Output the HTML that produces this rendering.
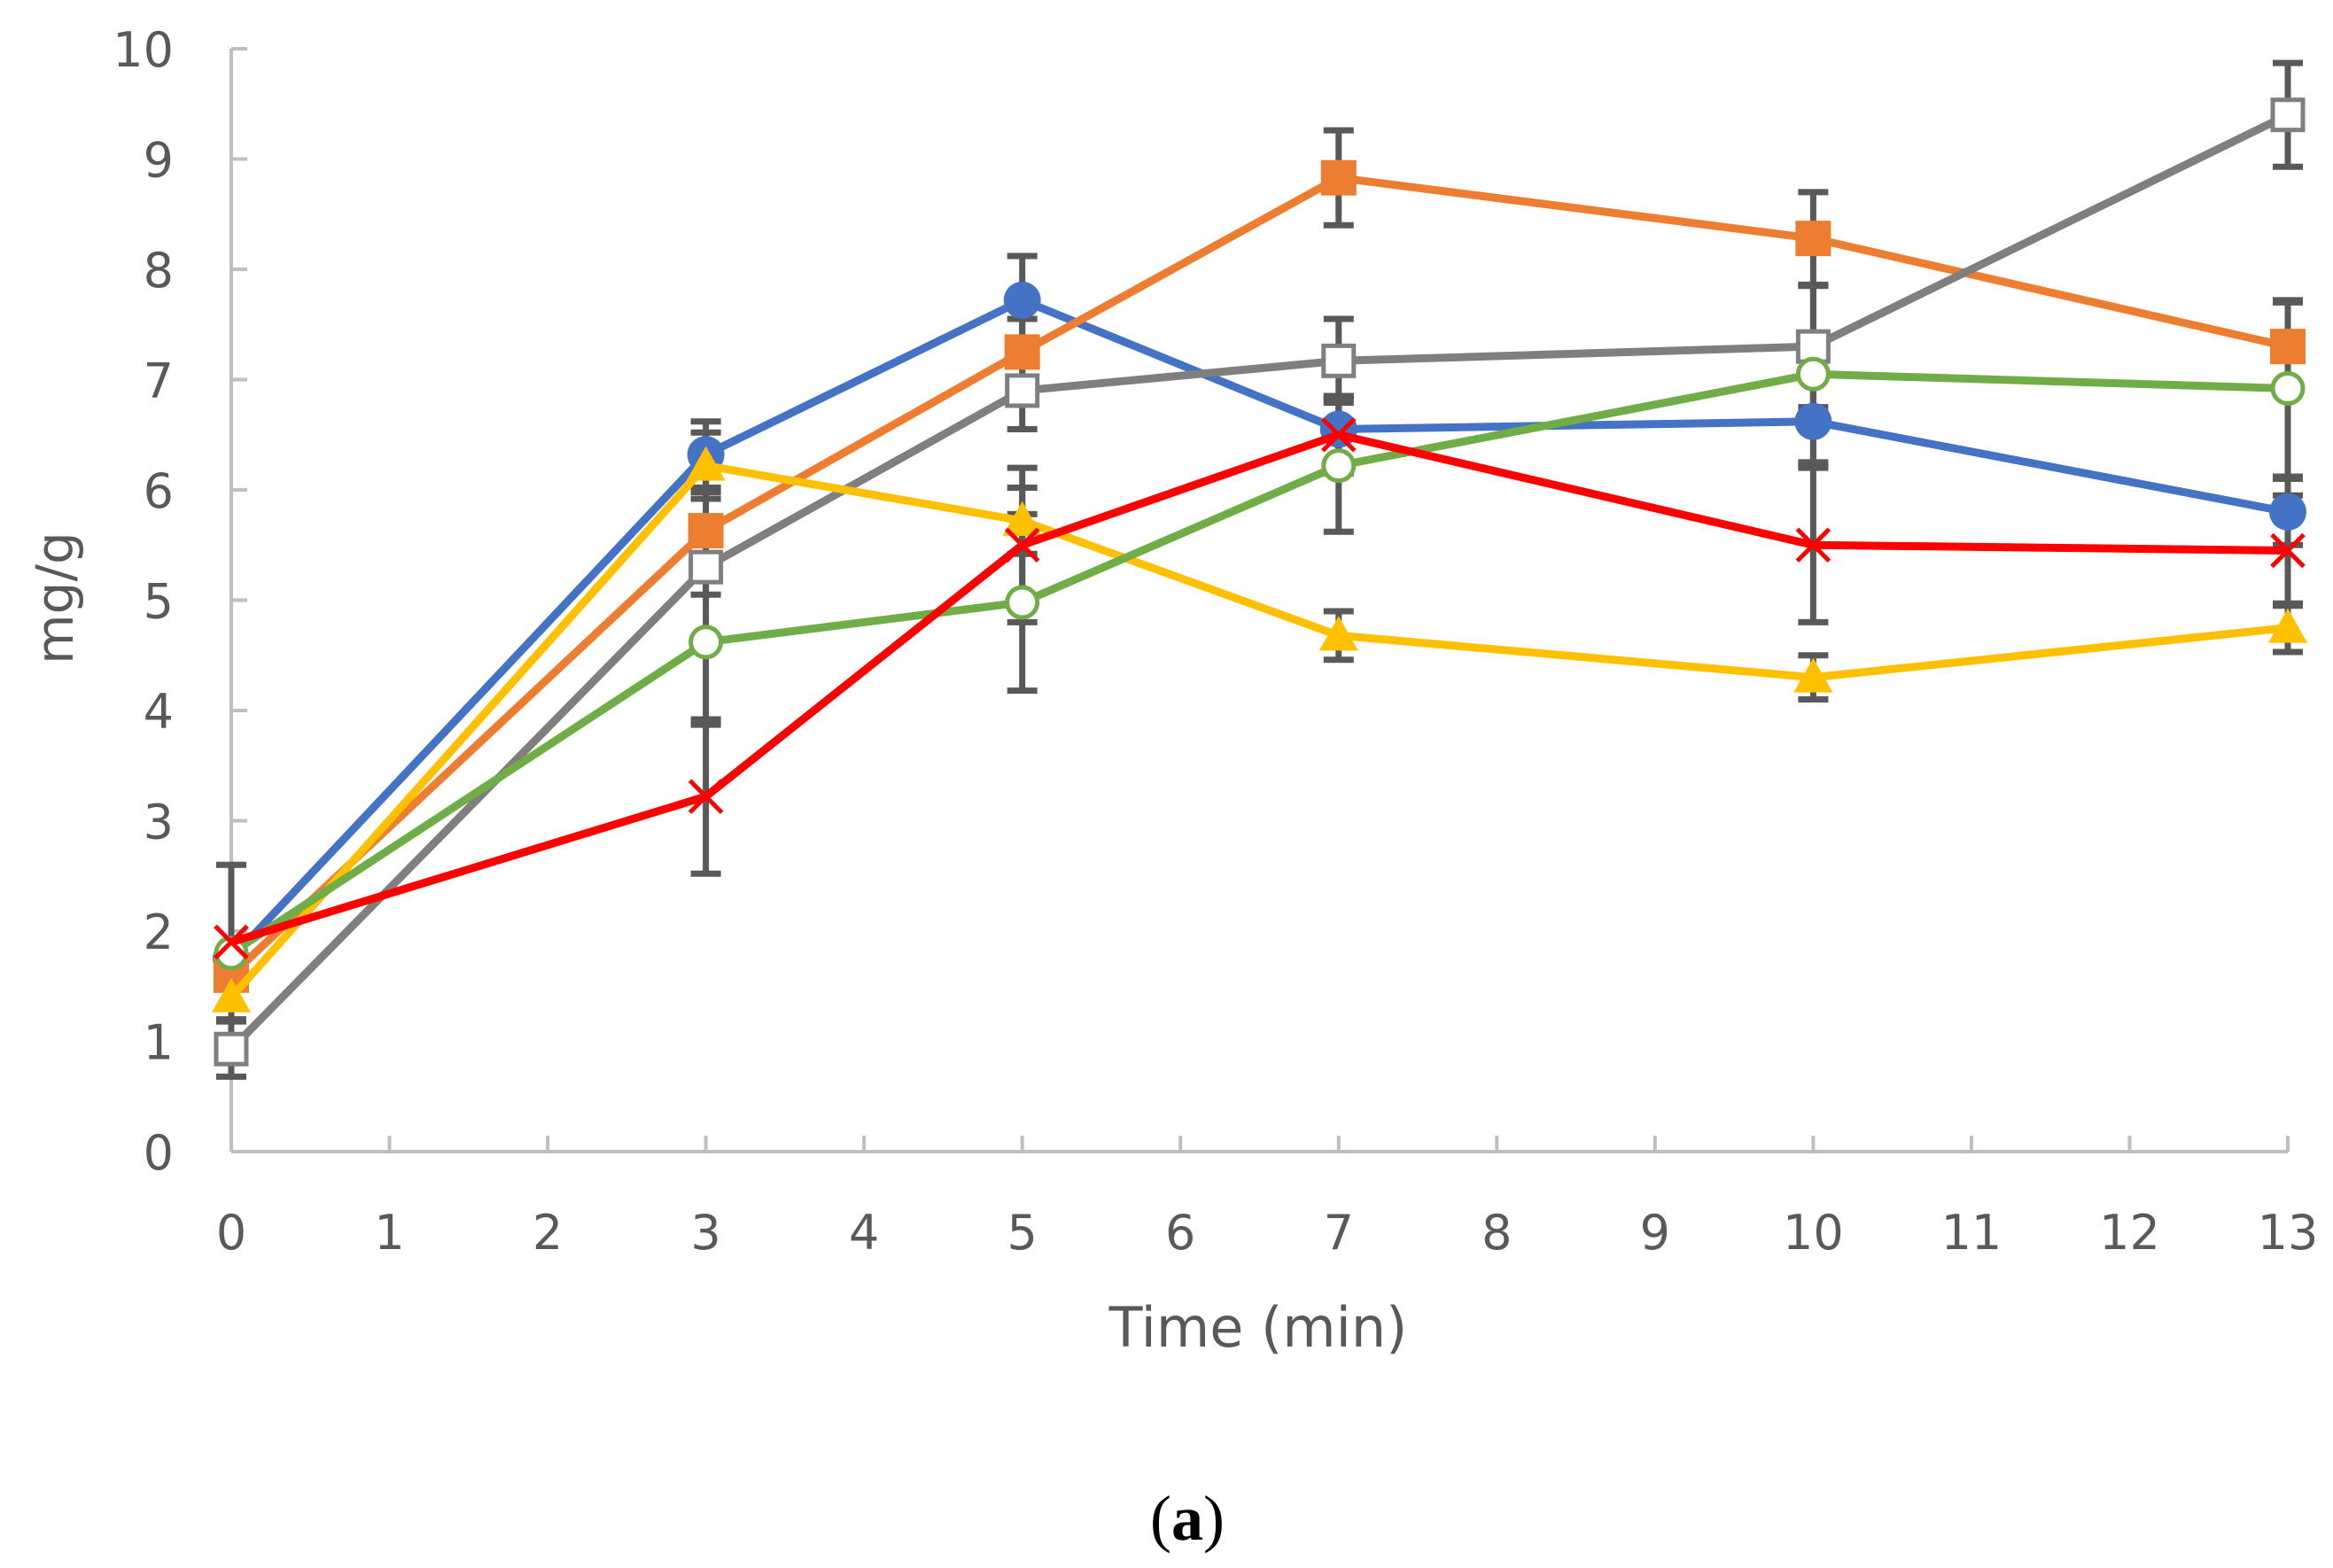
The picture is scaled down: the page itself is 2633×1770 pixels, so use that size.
<!DOCTYPE html>
<html><head><meta charset="utf-8"><style>
html,body{margin:0;padding:0;background:#fff}
svg{display:block}
text{font-family:"DejaVu Sans","Liberation Sans",sans-serif;fill:#595959}
</style></head><body>
<svg id="chart" width="2633" height="1770" viewBox="0 0 2633 1770" xmlns="http://www.w3.org/2000/svg">
<g id="axes"></g>
<g id="errs"></g>
<g id="series"></g>
<text x="1420" y="1520" font-size="62" text-anchor="middle">Time (min)</text>
<text transform="translate(82,675) rotate(-90)" font-size="58" text-anchor="middle">mg/g</text>
<text x="1340" y="1738" font-size="72" text-anchor="middle" style="font-family:'Liberation Serif',serif;fill:#000">(<tspan font-weight="bold">a</tspan>)</text>
</svg>
<script>
const times=[0,3,5,7,10,13];
const xTicks=[0,1,2,3,4,5,6,7,8,9,10,11,12,13];
const yTicks=[0,1,2,3,4,5,6,7,8,9,10];
const blueVals=[1.75,6.32,7.72,6.55,6.62,5.8];
const blueErr=[0,0.3,0.4,0.3,0.4,0.3];
const orangeVals=[1.6,5.63,7.25,8.83,8.28,7.3];
const orangeErr=[0,0.35,0.3,0.43,0.42,0.4];
const grayVals=[0.93,5.3,6.9,7.17,7.3,9.4];
const grayErr=[0.25,0.25,0.35,0.38,0.55,0.47];
const yellowVals=[1.4,6.22,5.72,4.68,4.3,4.75];
const yellowErr=[0,0.3,0.3,0.22,0.2,0.22];
const greenVals=[1.8,4.62,4.98,6.22,7.05,6.92];
const greenErr=[0,0.75,0.8,0.6,0.8,0.8];
const redVals=[1.9,3.22,5.5,6.5,5.5,5.45];
const redErr=[0.7,0.7,0.7,0.35,0.7,0.5];

const X0=261,X1=2582,Y0=1300,Y1=55;
const xs=v=>X0+(X1-X0)*v/13;
const ys=v=>Y0-(Y0-Y1)*v/10;
const NS='http://www.w3.org/2000/svg';
function mk(tag,attrs,parent){const e=document.createElementNS(NS,tag);for(const k in attrs)e.setAttribute(k,attrs[k]);parent.appendChild(e);return e;}
const axes=document.getElementById('axes');
let l=mk('line',{x1:X0,y1:Y0,x2:X1,y2:Y0,stroke:'#bfbfbf','stroke-width':4},axes);


l=mk('line',{x1:X0,y1:Y0,x2:X0,y2:Y1,stroke:'#bfbfbf','stroke-width':4},axes);


xTicks.forEach(t=>{
 const tk=mk('line',{x1:xs(t),y1:Y0,x2:xs(t),y2:Y0-18,stroke:'#bfbfbf','stroke-width':4},axes);
 
 
 const tx=mk('text',{x:xs(t),y:1410,'font-size':54,'text-anchor':'middle'},axes);
 tx.textContent=t;
 
 
});
yTicks.forEach(t=>{
 const tk=mk('line',{x1:X0,y1:ys(t),x2:X0+18,y2:ys(t),stroke:'#bfbfbf','stroke-width':4},axes);
 
 
 const tx=mk('text',{x:196,y:ys(t)+20,'font-size':54,'text-anchor':'end'},axes);
 tx.textContent=t;
 
 
});
const series=[
 {n:'blue',v:blueVals,e:blueErr,c:'#4472c4',m:'circle'},
 {n:'orange',v:orangeVals,e:orangeErr,c:'#ed7d31',m:'square'},
 {n:'gray',v:grayVals,e:grayErr,c:'#7f7f7f',m:'osquare'},
 {n:'yellow',v:yellowVals,e:yellowErr,c:'#ffc000',m:'triangle'},
 {n:'green',v:greenVals,e:greenErr,c:'#70ad47',m:'ocircle'},
 {n:'red',v:redVals,e:redErr,c:'#ff0000',m:'x'}
];
const eg=document.getElementById('errs'),sg=document.getElementById('series');
series.forEach(s=>{
 times.forEach((t,i)=>{
  if(!s.e[i])return;
  const x=xs(t),a=ys(s.v[i]+s.e[i]),b=ys(s.v[i]-s.e[i]);
  const p=mk('path',{d:`M${x},${a}V${b}M${x-17},${a}H${x+17}M${x-17},${b}H${x+17}`,stroke:'#595959','stroke-width':7,fill:'none'},eg);
  
  
 });
});
series.forEach(s=>{
 const g=mk('g',{},sg);
 
 
 const pl=mk('polyline',{points:times.map((t,i)=>xs(t)+','+ys(s.v[i])).join(' '),fill:'none',stroke:s.c,'stroke-width':9,'stroke-linejoin':'round'},g);
 
 
 times.forEach((t,i)=>{
  const x=xs(t),y=ys(s.v[i]);let m;
  if(s.m==='circle')m=mk('circle',{cx:x,cy:y,r:21,fill:s.c},g);
  else if(s.m==='ocircle')m=mk('circle',{cx:x,cy:y,r:17,fill:'#fff',stroke:s.c,'stroke-width':5},g);
  else if(s.m==='square')m=mk('rect',{x:x-20,y:y-20,width:40,height:40,fill:s.c},g);
  else if(s.m==='osquare')m=mk('rect',{x:x-17,y:y-17,width:34,height:34,fill:'#fff',stroke:s.c,'stroke-width':5},g);
  else if(s.m==='triangle')m=mk('path',{d:`M${x},${y-22}L${x+22},${y+17}L${x-22},${y+17}Z`,fill:s.c},g);
  else m=mk('path',{d:`M${x-18},${y-18}L${x+18},${y+18}M${x+18},${y-18}L${x-18},${y+18}`,stroke:s.c,'stroke-width':5},g);
  
  
 });
});
</script>
</body></html>
